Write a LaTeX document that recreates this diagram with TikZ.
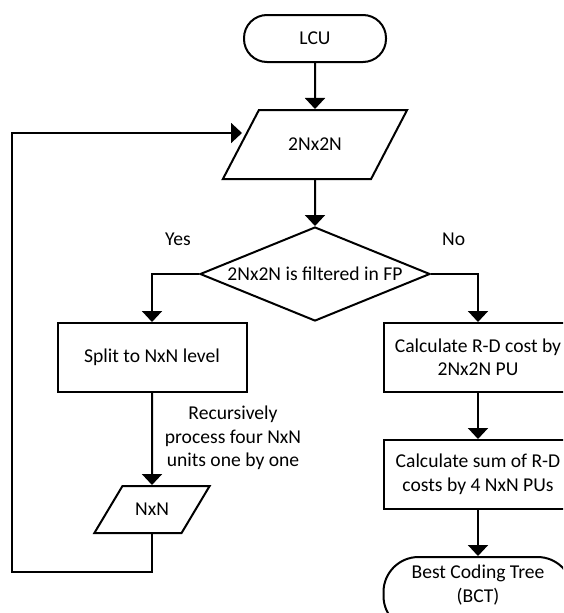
\documentclass[tikz,border=0pt]{standalone}
\usepackage{fontspec}
\setmainfont{Carlito}
\usetikzlibrary{shapes.geometric, arrows.meta, positioning}
\tikzset{
    terminal/.style={
        rectangle, rounded corners=23pt, minimum width=142pt, minimum height=47pt,
        align=center, draw=black, line width=2pt
    },
    process/.style={
        rectangle, minimum width=189pt, minimum height=69pt,
        align=center, draw=black, line width=2pt
    },
    data/.style={
        trapezium, trapezium left angle=45, trapezium right angle=135,
        trapezium stretches=true, minimum width=186pt, minimum height=69pt,
        align=center, draw=black, line width=2pt
    },
    decision/.style={
        diamond, aspect=2.45, minimum width=230pt, minimum height=94pt,
        inner sep=0pt, align=center, draw=black, line width=2pt
    },
    arrow/.style={
        -{Triangle[width=20pt,length=11pt]}, line width=2pt, draw=black
    },
    note/.style={
        align=center, inner sep=0pt
    }
}
\begin{document}
\begin{tikzpicture}[x=1pt, y=1pt, font=\fontsize{19.6}{23.5}\selectfont]
    \path[use as bounding box, clip] (0,0) rectangle (563,-613);

    % columns of the two branches
    \coordinate (lcol) at (152,0);
    \coordinate (rcol) at (478,0);

    % ── main column ──
    \node[terminal]                   (lcu)  at (315,-38.5) {LCU};
    \node[data, below=46pt of lcu]    (cu)   {2Nx2N};
    \node[decision, below=46pt of cu] (filt) {2Nx2N is filtered in FP};

    \node[note, above left=28pt and 8pt of filt.west]   (yes) {Yes};
    \node[note, above right=28pt and 11pt of filt.east] (no)  {No};

    % ── yes branch ──
    \node[process, anchor=north] (split) at (filt.south -| lcol) {Split to NxN level};
    \node[data, minimum width=116pt, minimum height=47pt, below=92pt of split] (nxn) {NxN};
    \node[note, below=13pt of split.south, xshift=81pt] (recur)
        {Recursively\\process four NxN\\units one by one};

    % ── no branch ──
    \node[process, anchor=north]       (rdcu)  at (filt.south -| rcol) {Calculate R-D cost by\\2Nx2N PU};
    \node[process, below=46pt of rdcu] (rdsum) {Calculate sum of R-D\\costs by 4 NxN PUs};
    \node[terminal, rounded corners=35pt, minimum width=189pt, minimum height=74pt,
          text depth=21pt, below=46pt of rdsum] (bct) {Best Coding Tree\\(BCT)};

    % loop back to the top
    \coordinate (corner) at (12,-572);
    \coordinate (ret)    at (242,-133);

    % ── Arrows ──
    \draw[arrow] (lcu)   -- (cu);
    \draw[arrow] (cu)    -- (filt);
    \draw[arrow] (filt.west) -| (split.north);
    \draw[arrow] (filt.east) -| (rdcu.north);
    \draw[arrow] (split) -- (nxn);
    \draw[arrow] (nxn.south) |- (corner) |- (ret);
    \draw[arrow] (rdcu)  -- (rdsum);
    \draw[arrow] (rdsum) -- (bct);

\end{tikzpicture}
\end{document}
